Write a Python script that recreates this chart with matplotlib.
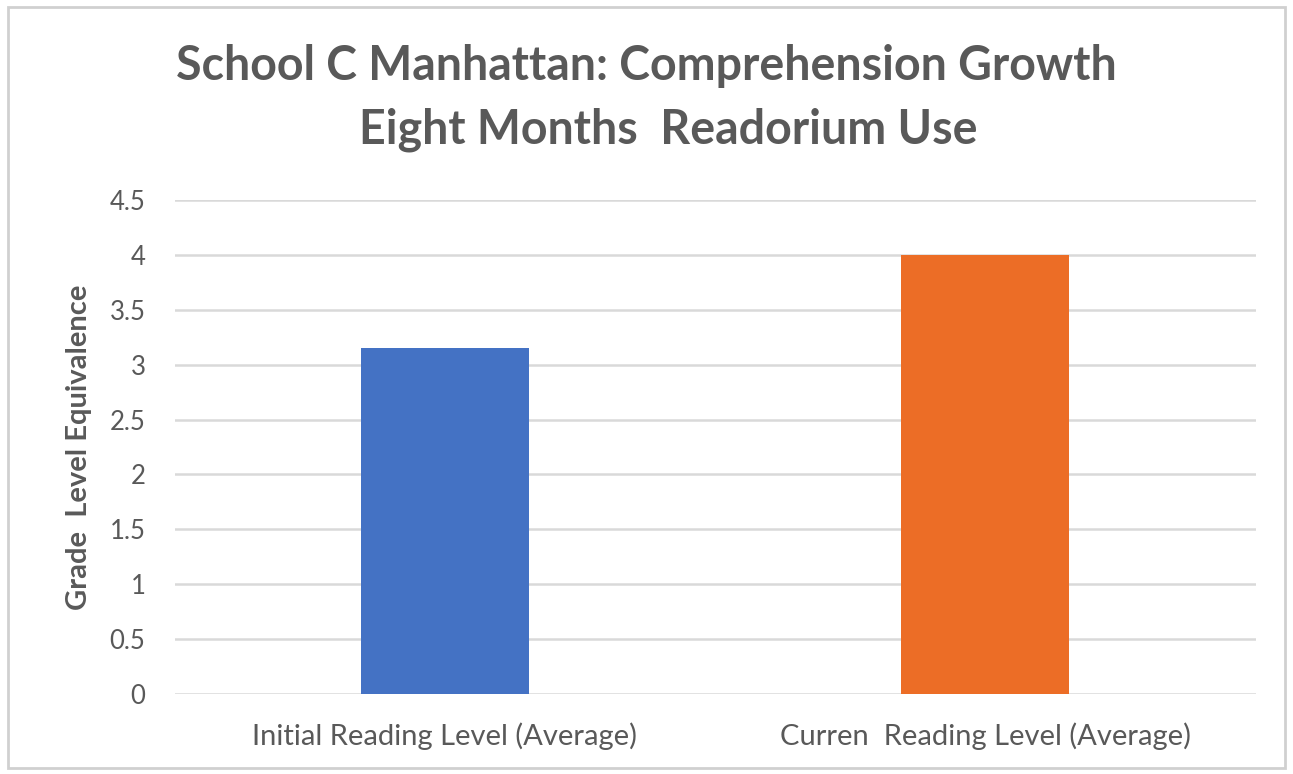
import matplotlib.pyplot as plt
from matplotlib.patches import Rectangle

categories = ['Initial Reading Level (Average)', 'Curren  Reading Level (Average)']
values = [3.15, 4.0]
colors = ['#4472C4', '#EC6D26']
yticks = [0, 0.5, 1, 1.5, 2, 2.5, 3, 3.5, 4, 4.5]

plt.rcParams['font.family'] = ['Lato', 'DejaVu Sans']
gray = '#595959'

fig = plt.figure(figsize=(12.93, 7.74), dpi=100)
ax = fig.add_axes([0.135, 0.103, 0.836, 0.639])

x = range(len(categories))
ax.bar(x, values, width=0.31, color=colors, zorder=3)
ax.set_xlim(-0.5, 1.5)
ax.set_ylim(0, 4.5)
ax.set_yticks(yticks)
ax.set_yticklabels(['0', '0.5', '1', '1.5', '2', '2.5', '3', '3.5', '4', '4.5'])
ax.set_xticks(list(x))
ax.set_xticklabels(categories)
ax.grid(axis='y', color='#d9d9d9', linewidth=1.8, zorder=0)
for s in ax.spines.values():
    s.set_visible(False)
ax.tick_params(length=0, labelcolor=gray)
ax.tick_params(axis='x', pad=20, labelsize=21)
ax.tick_params(axis='y', pad=21, labelsize=18.5)

ax.set_ylabel('Grade  Level Equivalence', fontsize=21, fontweight='bold', color=gray)
ax.yaxis.set_label_coords(-0.076, 0.5)

fig.text(0.5, 0.915, 'School C Manhattan: Comprehension Growth',
         ha='center', va='center', fontsize=33.5, fontweight='bold', color=gray)
fig.text(0.517, 0.832, 'Eight Months  Readorium Use',
         ha='center', va='center', fontsize=33.5, fontweight='bold', color=gray)

fig.patches.append(Rectangle((0.006, 0.008), 0.988, 0.983, transform=fig.transFigure,
                             fill=False, edgecolor='#d0d0d0', linewidth=2))

fig.savefig('out.png', dpi=100)
